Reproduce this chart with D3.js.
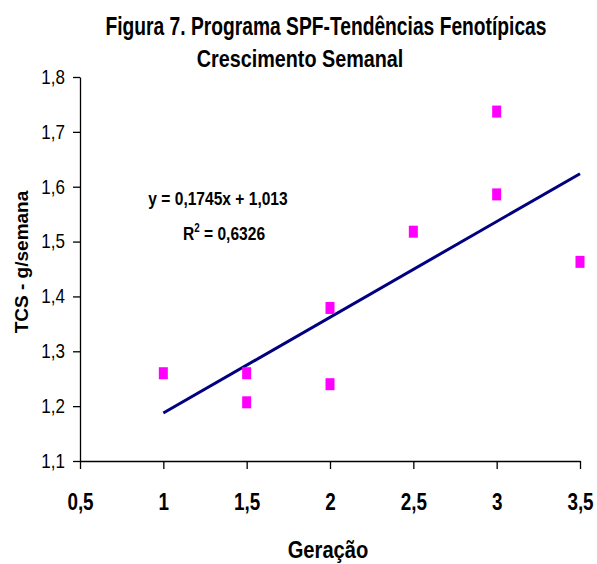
<!DOCTYPE html>
<html>
<head>
<meta charset="utf-8">
<script src="https://cdn.jsdelivr.net/npm/d3@7"></script>
<style>
  body { margin: 0; background: #fff; }
  svg { display: block; font-family: "Liberation Sans", Arial, sans-serif; }
</style>
</head>
<body>
<div id="chart"></div>
<script>
// data
var geracao = [1, 1.5, 1.5, 2, 2, 2.5, 3, 3, 3.5];
var tcs = [1.26, 1.26, 1.207, 1.379, 1.24, 1.518, 1.737, 1.586, 1.463];
var xTicks = [0.5, 1, 1.5, 2, 2.5, 3, 3.5];
var yTicks = [1.1, 1.2, 1.3, 1.4, 1.5, 1.6, 1.7, 1.8];
// trendline y = 0,1745x + 1,013 drawn from x = 1 to 3.5
var slope = 0.1745, intercept = 1.013;
var trendX = [1, 3.5];

var width = 597, height = 564;
var margin = {top: 77, right: 17, bottom: 103, left: 80};
var narrow = 0.82; // no Arial Narrow installed, squeeze Liberation Sans instead

var svg = d3.select("#chart").append("svg")
    .attr("width", width)
    .attr("height", height);

var x = d3.scaleLinear().domain([0.5, 3.5]).range([margin.left, width - margin.right]);
var y = d3.scaleLinear().domain([1.1, 1.8]).range([height - margin.bottom, margin.top]);

var comma = function(d) { return String(d).replace(".", ","); };

// centred text squeezed horizontally
function narrowText(parent, cx, cy, size, weight, str, sx) {
  return parent.append("text")
      .attr("transform", "translate(" + cx + "," + cy + ") scale(" + (sx || narrow) + ",1)")
      .attr("text-anchor", "middle")
      .style("font-size", size + "px")
      .style("font-weight", weight)
      .text(str);
}

// titles
narrowText(svg, 326, 35, 26, "bold", "Figura 7. Programa SPF-Tendências Fenotípicas", 0.74);
narrowText(svg, 300, 67, 23, "bold", "Crescimento Semanal", 0.86);

// y axis
var yAxis = svg.append("g")
    .attr("transform", "translate(" + margin.left + ",0)")
    .call(d3.axisLeft(y).tickValues(yTicks).tickFormat(comma).tickSize(7).tickSizeOuter(0));
yAxis.select(".domain").attr("stroke", "#000").attr("stroke-width", 1.3);
yAxis.selectAll(".tick line").attr("stroke", "#000").attr("stroke-width", 1.3);
yAxis.selectAll(".tick text")
    .attr("x", null)
    .attr("transform", "translate(-15,0) scale(0.85,1)")
    .style("font-size", "20px")
    .style("font-family", "'Liberation Sans', Arial, sans-serif")
    .attr("fill", "#000");

// x axis
var xAxis = svg.append("g")
    .attr("transform", "translate(0," + y(1.1) + ")")
    .call(d3.axisBottom(x).tickValues(xTicks).tickFormat(comma).tickSize(8).tickSizeOuter(0));
xAxis.select(".domain").attr("stroke", "#000").attr("stroke-width", 1.3);
xAxis.selectAll(".tick line").attr("stroke", "#000").attr("stroke-width", 1.3);
xAxis.selectAll(".tick text")
    .attr("y", 33)
    .attr("transform", "scale(" + narrow + ",1)")
    .style("font-size", "23px").style("font-weight", "bold")
    .style("font-family", "'Liberation Sans', Arial, sans-serif")
    .attr("fill", "#000");

// axis titles
narrowText(svg, 328, 558, 24, "bold", "Geração", 0.84);

svg.append("text")
    .attr("transform", "translate(28,262) rotate(-90)")
    .attr("text-anchor", "middle")
    .style("font-size", "19px").style("font-weight", "bold")
    .text("TCS - g/semana");

// trendline
svg.append("line")
    .attr("x1", x(trendX[0])).attr("y1", y(slope * trendX[0] + intercept))
    .attr("x2", x(trendX[1])).attr("y2", y(slope * trendX[1] + intercept))
    .attr("stroke", "#000080")
    .attr("stroke-width", 3);

// points
svg.selectAll(".pt")
    .data(geracao)
    .enter().append("rect")
    .attr("class", "pt")
    .attr("x", function(d) { return x(d) - 4.5; })
    .attr("y", function(d, i) { return y(tcs[i]) - 6; })
    .attr("width", 9)
    .attr("height", 12)
    .attr("fill", "#ff00ff");

// equation label
narrowText(svg, 218, 205, 19, "bold", "y = 0,1745x + 1,013");
var r2 = narrowText(svg, 224, 240, 19, "bold", "");
r2.append("tspan").text("R");
r2.append("tspan").attr("dy", -8).style("font-size", "12px").text("2");
r2.append("tspan").attr("dy", 8).text(" = 0,6326");
</script>
</body>
</html>
